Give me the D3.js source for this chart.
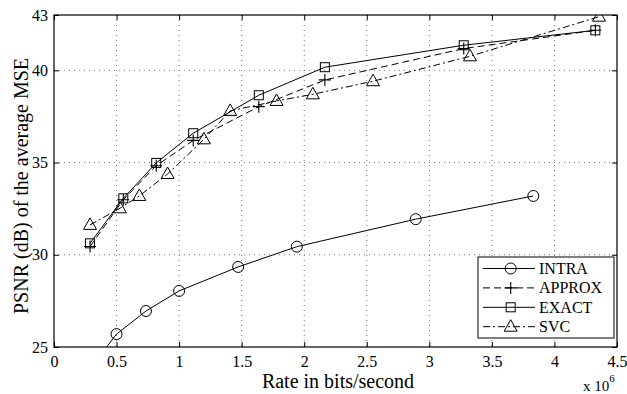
<!DOCTYPE html>
<html>
<head>
<meta charset="utf-8">
<script src="https://cdn.jsdelivr.net/npm/d3@7/dist/d3.min.js"></script>
<style>
  body { margin: 0; background: #fff; }
  text { font-family: "Liberation Serif", "Times New Roman", serif; fill: #000; }
</style>
</head>
<body>
<div id="chart"></div>
<script>
// data (rate in units of 10^6 bits/s, PSNR in dB)
var intraRate = [0.29, 0.50, 0.735, 1.00, 1.472, 1.941, 2.891, 3.831];
var intraPsnr = [23.85, 25.70, 26.95, 28.04, 29.34, 30.44, 31.93, 33.19];

var approxRate = [0.288, 0.554, 0.817, 1.113, 1.637, 2.165, 3.275, 4.327];
var approxPsnr = [30.45, 32.98, 34.83, 36.20, 38.03, 39.48, 41.18, 42.17];

var exactRate = [0.288, 0.554, 0.817, 1.113, 1.637, 2.165, 3.275, 4.327];
var exactPsnr = [30.62, 33.06, 34.98, 36.59, 38.65, 40.17, 41.36, 42.17];

var svcRate = [0.288, 0.527, 0.682, 0.908, 1.198, 1.408, 1.779, 2.069, 2.55, 3.325, 4.356];
var svcPsnr = [31.62, 32.52, 33.19, 34.38, 36.26, 37.80, 38.34, 38.70, 39.41, 40.76, 42.91];

var xTicks = [0, 0.5, 1, 1.5, 2, 2.5, 3, 3.5, 4, 4.5];
var yTicks = [25, 30, 35, 40, 43];

var series = [
    { name: 'INTRA', rate: intraRate, psnr: intraPsnr, dash: null, marker: 'circle' },
    { name: 'APPROX', rate: approxRate, psnr: approxPsnr, dash: '7,4', marker: 'plus' },
    { name: 'EXACT', rate: exactRate, psnr: exactPsnr, dash: null, marker: 'square' },
    { name: 'SVC', rate: svcRate, psnr: svcPsnr, dash: '7,3,2,3', marker: 'triangle' }
];

var width = 627, height = 394;
var margin = { left: 54, top: 15, right: 10, bottom: 47 };
var plotW = width - margin.left - margin.right;
var plotH = height - margin.top - margin.bottom;

var svg = d3.select('#chart').append('svg')
    .attr('width', width)
    .attr('height', height);

var x = d3.scaleLinear().domain([0, 4.5]).range([0, plotW]);
var y = d3.scaleLinear().domain([25, 43]).range([plotH, 0]);

var g = svg.append('g')
    .attr('transform', 'translate(' + margin.left + ',' + margin.top + ')');

svg.append('defs').append('clipPath').attr('id', 'clip')
    .append('rect').attr('width', plotW).attr('height', plotH);

// dotted grid
g.append('g').selectAll('line')
    .data(xTicks.slice(1, -1))
    .enter().append('line')
    .attr('x1', d => x(d)).attr('x2', d => x(d))
    .attr('y1', 0).attr('y2', plotH)
    .attr('stroke', '#555').attr('stroke-width', 0.8)
    .attr('stroke-dasharray', '1,4');

g.append('g').selectAll('line')
    .data(yTicks.filter(d => d !== 25 && d !== 43))
    .enter().append('line')
    .attr('x1', 0).attr('x2', plotW)
    .attr('y1', d => y(d)).attr('y2', d => y(d))
    .attr('stroke', '#555').attr('stroke-width', 0.8)
    .attr('stroke-dasharray', '1,4');

// axes with inward ticks
var tickLen = 5;
var xAxis = d3.axisBottom(x).tickValues(xTicks).tickSize(-tickLen).tickPadding(9)
    .tickFormat(d3.format('~g'));
var yAxis = d3.axisLeft(y).tickValues(yTicks).tickSize(-tickLen).tickPadding(6);

var gx = g.append('g').attr('transform', 'translate(0,' + plotH + ')').call(xAxis);
var gy = g.append('g').call(yAxis);
var gxTop = g.append('g').call(d3.axisTop(x).tickValues(xTicks).tickSize(-tickLen).tickFormat(''));
var gyRight = g.append('g').attr('transform', 'translate(' + plotW + ',0)')
    .call(d3.axisRight(y).tickValues(yTicks).tickSize(-tickLen).tickFormat(''));

[gx, gy, gxTop, gyRight].forEach(function (a) {
    a.select('.domain').remove();
    a.selectAll('.tick line').attr('stroke', '#000');
    a.selectAll('text')
        .style('font-family', '"Liberation Serif", serif')
        .style('font-size', '16px')
        .attr('fill', '#000');
});

g.append('rect')
    .attr('width', plotW).attr('height', plotH)
    .attr('fill', 'none').attr('stroke', '#000').attr('stroke-width', 1.2);

// series lines
var line = d3.line()
    .x(d => x(d[0]))
    .y(d => y(d[1]));

var plotArea = g.append('g').attr('clip-path', 'url(#clip)');

function drawMarker (sel, type) {
    if (type === 'circle') {
        sel.append('circle').attr('r', 5.5)
            .attr('fill', 'none').attr('stroke', '#000').attr('stroke-width', 1);
    } else if (type === 'square') {
        sel.append('rect').attr('x', -4.5).attr('y', -4.5).attr('width', 9).attr('height', 9)
            .attr('fill', 'none').attr('stroke', '#000').attr('stroke-width', 1);
    } else if (type === 'triangle') {
        sel.append('path').attr('d', 'M0,-7L6.5,4.5L-6.5,4.5Z')
            .attr('fill', 'none').attr('stroke', '#000').attr('stroke-width', 1);
    } else if (type === 'plus') {
        sel.append('path').attr('d', 'M-6,0H6M0,-6V6')
            .attr('fill', 'none').attr('stroke', '#000').attr('stroke-width', 1.1);
    }
}

series.forEach(function (s) {
    var pts = s.rate.map((r, i) => [r, s.psnr[i]]);
    plotArea.append('path')
        .datum(pts)
        .attr('d', line)
        .attr('fill', 'none')
        .attr('stroke', '#000')
        .attr('stroke-width', 1)
        .attr('stroke-dasharray', s.dash);

    plotArea.append('g').selectAll('g')
        .data(pts)
        .enter().append('g')
        .attr('transform', d => 'translate(' + x(d[0]) + ',' + y(d[1]) + ')')
        .each(function () { drawMarker(d3.select(this), s.marker); });
});

// legend
var legend = svg.append('g').attr('transform', 'translate(478,257)');
legend.append('rect')
    .attr('width', 136).attr('height', 81)
    .attr('fill', '#fff').attr('stroke', '#000').attr('stroke-width', 1);

series.forEach(function (s, i) {
    var row = legend.append('g').attr('transform', 'translate(0,' + (11.5 + i * 19.4) + ')');
    row.append('line')
        .attr('x1', 5).attr('x2', 57)
        .attr('stroke', '#000').attr('stroke-width', 1)
        .attr('stroke-dasharray', s.dash);
    drawMarker(row.append('g').attr('transform', 'translate(32.7,0)'), s.marker);
    row.append('text')
        .attr('x', 61).attr('y', 5.5)
        .style('font-size', '16px')
        .text(s.name);
});

// labels
svg.append('text')
    .attr('x', 338).attr('y', 388)
    .attr('text-anchor', 'middle')
    .style('font-size', '20px')
    .text('Rate in bits/second');

svg.append('text')
    .attr('transform', 'translate(28,186) rotate(-90)')
    .attr('text-anchor', 'middle')
    .style('font-size', '20px')
    .text('PSNR (dB) of the average MSE');

var expo = svg.append('text')
    .attr('x', 583).attr('y', 391)
    .style('font-size', '15px');
expo.append('tspan').text('x 10');
expo.append('tspan').attr('dy', -9).style('font-size', '11px').text('6');
</script>
</body>
</html>
